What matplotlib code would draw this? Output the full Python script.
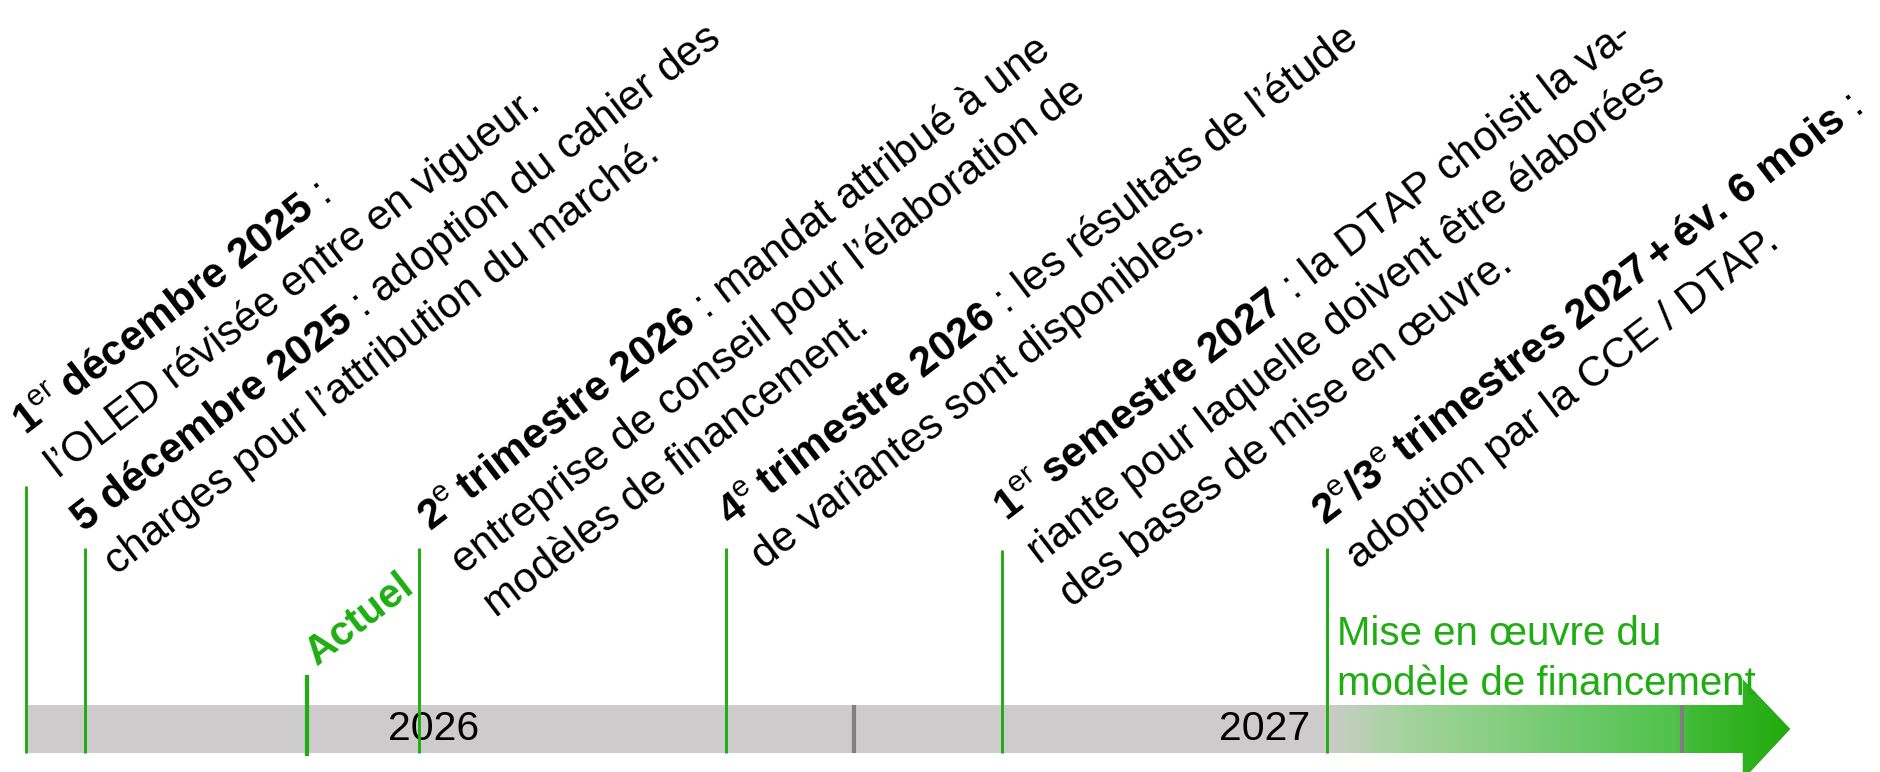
import numpy as np
import matplotlib.pyplot as plt
from matplotlib.colors import LinearSegmentedColormap
from matplotlib.patches import Polygon

plt.rcParams['font.family'] = ['Liberation Sans', 'DejaVu Sans']
plt.rcParams['mathtext.fontset'] = 'custom'
plt.rcParams['mathtext.rm'] = 'Liberation Sans'
plt.rcParams['mathtext.bf'] = 'Liberation Sans:bold'
plt.rcParams['mathtext.it'] = 'Liberation Sans:italic'

# timeline, in months from the start of the bar (Jan 2026)
event_pos = [0.0, 0.85, 5.7, 10.15, 14.15, 18.85]
event_text = [
    [r"$\mathbf{1}^{\mathrm{er}}\mathbf{\:décembre\ 2025}$ :",
     "l’OLED révisée entre en vigueur."],
    [r"$\mathbf{5\ décembre\ 2025}$ : adoption du cahier des",
     "charges pour l’attribution du marché."],
    [r"$\mathbf{2}^{\mathrm{e}}\mathbf{\:trimestre\ 2026}$ : mandat attribué à une",
     "entreprise de conseil pour l’élaboration de",
     "modèles de financement."],
    [r"$\mathbf{4}^{\mathrm{e}}\mathbf{\:trimestre\ 2026}$ : les résultats de l’étude",
     "de variantes sont disponibles."],
    [r"$\mathbf{1}^{\mathrm{er}}\mathbf{\:semestre\ 2027}$ : la DTAP choisit la va-",
     "riante pour laquelle doivent être élaborées",
     "des bases de mise en œuvre."],
    [r"$\mathbf{2}^{\mathrm{e}}\mathbf{/3}^{\mathrm{e}}\mathbf{\:trimestres\ 2027+év.\,6\ mois}$ :",
     "adoption par la CCE / DTAP."],
]
now_pos = 4.07
now_label = "Actuel"
years = ["2026", "2027"]
year_pos = [5.9, 17.95]
year_ends = [12.0, 24.0]
impl_start = 18.85
impl_end = 24.88
impl_tip = 25.57
impl_label = ["Mise en œuvre du", "modèle de financement"]

# layout (pixels, y downwards)
line_top = [486, 548, 548, 548, 550, 548]
label_off = [(0, -50), (-1, -15), (11, -16), (4, -21), (4, -28), (-1, -21)]
bar_top, bar_bot = 705, 753
green = '#1fad12'
grey = '#cdcbcc'
ANG = 37.5
SP = 54
FS = 30.5

fig = plt.figure(figsize=(18.81, 7.72), dpi=100)
ax = fig.add_axes([0, 0, 1, 1])
ax.set_xlim(-26 / 69, (1881 - 26) / 69)
ax.set_ylim(772, 0)
ax.axis('off')

px = 72 / fig.dpi


def rot_lines(x, y, dx, dy, lines, size, color='black', weight='normal'):
    s, c = np.sin(np.radians(ANG)), np.cos(np.radians(ANG))
    for j, line in enumerate(lines):
        ox = (dx + j * SP * s) * px
        oy = -(dy + j * SP * c) * px
        ax.annotate(line, xy=(x, y), xytext=(ox, oy), textcoords='offset points',
                    rotation=ANG, rotation_mode='anchor', ha='left', va='baseline',
                    fontsize=size, color=color, fontweight=weight,
                    annotation_clip=False)


# grey bar
ax.barh((bar_top + bar_bot) / 2, impl_start, left=0, height=bar_bot - bar_top,
        color=grey, zorder=1)

# gradient arrow for the implementation phase
cmap = LinearSegmentedColormap.from_list('impl', [
    (0.0, '#cbcbc9'), (0.06, '#bcd0b7'), (0.18, '#a2d39b'), (0.395, '#83ce7e'),
    (0.61, '#63c760'), (0.755, '#4fc249'), (0.79, '#3fba34'), (1.0, '#22aa0e')])
grad = np.linspace(0, 1, 400).reshape(1, -1)
mid = (bar_top + bar_bot) / 2
im = ax.imshow(grad, cmap=cmap, aspect='auto', zorder=1,
               extent=[impl_start, impl_tip, 781, 677])
arrow = Polygon([(impl_start, bar_top), (impl_end, bar_top), (impl_end, 679),
                 (impl_tip, mid), (impl_end, 780), (impl_end, bar_bot),
                 (impl_start, bar_bot)], closed=True, facecolor='none',
                edgecolor='none', transform=ax.transData)
ax.add_patch(arrow)
im.set_clip_path(arrow)

# year ends
ax.vlines(year_ends, bar_top, bar_bot, color='#7f7f7f', lw=3, zorder=2)

# year labels
for y_lab, y_x in zip(years, year_pos):
    ax.text(y_x, mid, y_lab, ha='center', va='center', fontsize=29.5,
            color='black', zorder=3)

# event lines and labels
ax.vlines(event_pos, line_top, bar_bot, color=green, lw=2.1, zorder=4)
for x, top, (dx, dy), lines in zip(event_pos, line_top, label_off, event_text):
    rot_lines(x, top, dx, dy, lines, FS)

# current date
ax.vlines([now_pos], 675, 756, color=green, lw=3, zorder=4)
rot_lines(now_pos, 675, 10, -9, [now_label], 29.5, color=green, weight='bold')

# implementation label
for j, line in enumerate(impl_label):
    ax.text(impl_start + 10 / 69, 645 + j * 50, line, ha='left', va='baseline',
            fontsize=29, color=green, zorder=3)

fig.savefig('out.png', dpi=100)
